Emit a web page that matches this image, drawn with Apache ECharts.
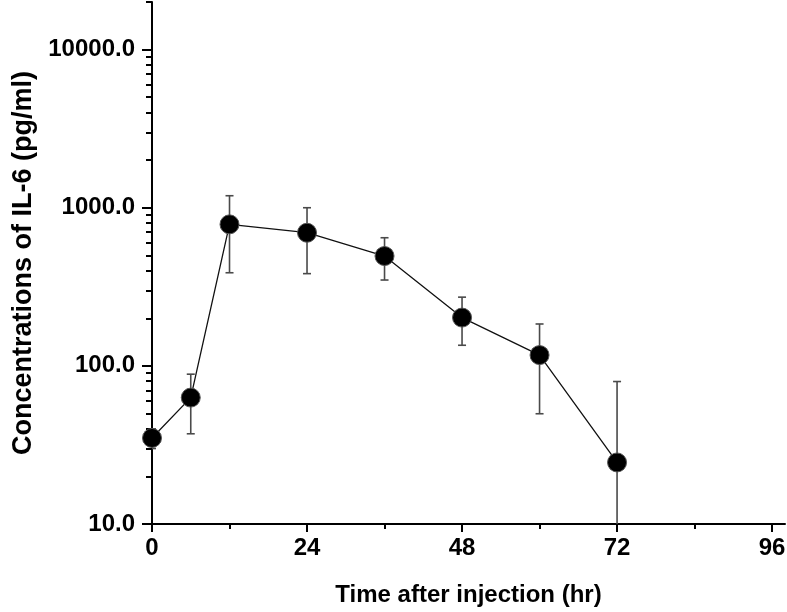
<!DOCTYPE html>
<html>
<head>
<meta charset="utf-8">
<script src="https://cdn.jsdelivr.net/npm/echarts@6/dist/echarts.min.js"></script>
<style>html,body{margin:0;padding:0;background:#fff}#c{width:787px;height:612px}</style>
</head>
<body>
<div id="c"></div>
<script>
// Data
const timeHr = [0, 6, 12, 24, 36, 48, 60, 72];
const meanIL6 = [35, 63, 785, 695, 495, 202, 117, 24.5];
const upperIL6 = [40, 88.6, 1191, 1000, 646, 272, 184, 79.6];
const lowerIL6 = [30, 37.2, 388, 383, 349, 135, 49.8, 5];

const xMajorTicks = [0, 24, 48, 72, 96];
const xMinorTicks = [12, 36, 60, 84];
const yMajorTicks = [10, 100, 1000, 10000];
const yMinorTicks = [20, 30, 40, 50, 60, 70, 80, 90, 200, 300, 400, 500, 600, 700, 800, 900,
  2000, 3000, 4000, 5000, 6000, 7000, 8000, 9000, 20000];

const xTitle = 'Time after injection (hr)';
const yTitle = 'Concentrations of IL-6 (pg/ml)';

const Y_MIN = 10, Y_MAX = 20000;

const chart = echarts.init(document.getElementById('c'));
const FONT = 'Liberation Sans, Arial, sans-serif';

const lineData = timeHr.map((t, i) => [t, meanIL6[i]]);
const errData = timeHr.map((t, i) => [t, lowerIL6[i], upperIL6[i]]);

// helper tick axes work in log10 space so ticks land at 20, 30, ... like the log axis
const lg = v => Math.log10(v);

function tickAxis(values, len) {
  return {
    type: 'value', min: lg(Y_MIN), max: lg(Y_MAX), position: 'left',
    axisLine: { show: false },
    axisTick: { show: true, inside: false, length: len, customValues: values.map(lg), lineStyle: { color: '#000', width: 2 } },
    axisLabel: { show: false },
    splitLine: { show: false }
  };
}

chart.setOption({
  animation: false,
  backgroundColor: '#fff',
  grid: { left: 152, right: 2, top: 2, bottom: 88, containLabel: false, outerBoundsMode: 'none' },
  xAxis: [
    {
      type: 'value', min: 0, max: 98,
      axisLine: { show: true, lineStyle: { color: '#000', width: 2 } },
      axisTick: { show: true, inside: false, length: 8, customValues: xMajorTicks, lineStyle: { color: '#000', width: 2 } },
      axisLabel: { show: true, customValues: xMajorTicks, color: '#000', fontSize: 24, fontWeight: 'bold', fontFamily: FONT, margin: 12 },
      splitLine: { show: false },
      name: xTitle, nameLocation: 'middle', nameGap: 59,
      nameTextStyle: { color: '#000', fontSize: 24, fontWeight: 'bold', fontFamily: FONT }
    },
    {
      type: 'value', min: 0, max: 98, position: 'bottom',
      axisLine: { show: false },
      axisTick: { show: true, inside: false, length: 5, customValues: xMinorTicks, lineStyle: { color: '#000', width: 2 } },
      axisLabel: { show: false },
      splitLine: { show: false }
    }
  ],
  yAxis: [
    {
      type: 'log', logBase: 10, min: Y_MIN, max: Y_MAX,
      axisLine: { show: true, lineStyle: { color: '#000', width: 2 } },
      axisTick: { show: false },
      axisLabel: { show: true, customValues: yMajorTicks, color: '#000', fontSize: 24, fontWeight: 'bold', fontFamily: FONT, margin: 17,
        formatter: v => (yMajorTicks.indexOf(Math.round(v)) >= 0 ? Number(v).toFixed(1) : '') },
      splitLine: { show: false },
      name: yTitle, nameLocation: 'middle', nameGap: 114, nameRotate: 90,
      nameTextStyle: { color: '#000', fontSize: 27, fontWeight: 'bold', fontFamily: FONT }
    },
    tickAxis(yMajorTicks, 10),
    tickAxis(yMinorTicks, 6)
  ],
  series: [
    {
      type: 'custom',
      xAxisIndex: 0, yAxisIndex: 0,
      clip: true,
      z: 2,
      data: errData,
      encode: { x: 0, y: [1, 2] },
      renderItem: function (params, api) {
        const x = api.value(0);
        const lo = api.coord([x, api.value(1)]);
        const hi = api.coord([x, api.value(2)]);
        const cap = 4;
        const style = { stroke: '#4a4a4a', lineWidth: 1.6, fill: null };
        return {
          type: 'group',
          children: [
            { type: 'line', shape: { x1: hi[0], y1: hi[1], x2: lo[0], y2: lo[1] }, style: style },
            { type: 'line', shape: { x1: hi[0] - cap, y1: hi[1], x2: hi[0] + cap, y2: hi[1] }, style: style },
            { type: 'line', shape: { x1: lo[0] - cap, y1: lo[1], x2: lo[0] + cap, y2: lo[1] }, style: style }
          ]
        };
      }
    },
    {
      type: 'line',
      xAxisIndex: 0, yAxisIndex: 0,
      data: lineData,
      z: 3,
      symbol: 'circle', symbolSize: 19,
      lineStyle: { color: '#111', width: 1.3 },
      itemStyle: { color: '#000', borderColor: '#555', borderWidth: 1 }
    }
  ]
});
</script>
</body>
</html>
